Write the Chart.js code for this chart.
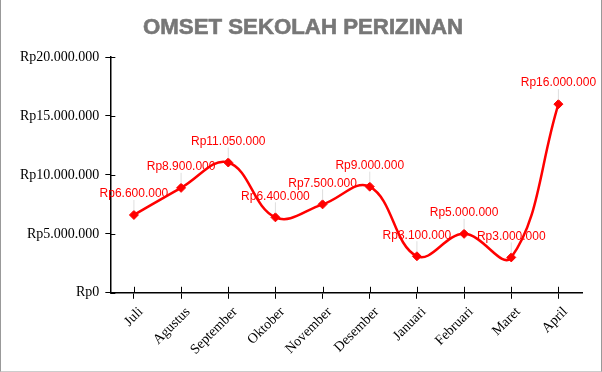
<!DOCTYPE html>
<html>
<head>
<meta charset="utf-8">
<script src="https://cdn.jsdelivr.net/npm/chart.js@4.4.1/dist/chart.umd.min.js"></script>
<style>
  html, body { margin: 0; padding: 0; background: #fff; }
  #wrap {
    width: 602px; height: 372px; box-sizing: border-box;
    border-left: 1px solid #999; border-right: 1px solid #999; border-bottom: 1px solid #ccc;
  }
</style>
</head>
<body>
<div id="wrap"><canvas id="omset_chart"></canvas></div>
<script>
var months = ['Juli', 'Agustus', 'September', 'Oktober', 'November', 'Desember', 'Januari', 'Februari', 'Maret', 'April'];
var omset = [6600000, 8900000, 11050000, 6400000, 7500000, 9000000, 3100000, 5000000, 3000000, 16000000];
var yTicks = [0, 5000000, 10000000, 15000000, 20000000];
var chartTitle = 'OMSET SEKOLAH PERIZINAN';

function rupiah(v) {
    return 'Rp' + String(Math.round(v)).replace(/\B(?=(\d{3})+(?!\d))/g, '.');
}

// heavy grey title, drawn by hand so it can be stretched a bit
const titlePlugin = {
    id: 'titlePlugin',
    afterDraw(chart) {
        const ctx = chart.ctx;
        ctx.save();
        ctx.font = 'bold 22px "Liberation Sans", Arial, sans-serif';
        const w = ctx.measureText(chartTitle).width;
        ctx.translate(302, 28);
        ctx.scale(320 / w, 1);
        ctx.fillStyle = '#777777';
        ctx.strokeStyle = '#777777';
        ctx.lineWidth = 0.6;
        ctx.textAlign = 'center';
        ctx.textBaseline = 'middle';
        ctx.fillText(chartTitle, 0, 0);
        ctx.strokeText(chartTitle, 0, 0);
        ctx.restore();
    }
};

// labels above each point with a thin grey leader line
const pointLabels = {
    id: 'pointLabels',
    afterDatasetsDraw(chart) {
        const ctx = chart.ctx;
        const meta = chart.getDatasetMeta(0);
        ctx.save();
        meta.data.forEach(function(pt, i) {
            ctx.strokeStyle = 'rgba(200,200,200,0.6)';
            ctx.lineWidth = 1;
            ctx.beginPath();
            ctx.moveTo(pt.x, pt.y - 4);
            ctx.lineTo(pt.x, pt.y - 15);
            ctx.stroke();
            ctx.fillStyle = '#ff0000';
            ctx.font = '12px "Liberation Sans", Arial, sans-serif';
            ctx.textAlign = 'center';
            ctx.textBaseline = 'middle';
            ctx.fillText(rupiah(omset[i]), pt.x, pt.y - 21);
        });
        ctx.restore();
    }
};

// tick marks crossing into the plot area too
const innerTicks = {
    id: 'innerTicks',
    afterDraw(chart) {
        const ctx = chart.ctx;
        const x = chart.scales.x, y = chart.scales.y;
        ctx.save();
        ctx.strokeStyle = '#000';
        ctx.lineWidth = 1;
        ctx.beginPath();
        x.ticks.forEach(function(t, i) {
            const px = Math.round(x.getPixelForTick(i)) + 0.5;
            ctx.moveTo(px, x.top);
            ctx.lineTo(px, x.top - 6);
        });
        y.ticks.forEach(function(t, i) {
            const py = Math.round(y.getPixelForTick(i)) + 0.5;
            ctx.moveTo(y.right, py);
            ctx.lineTo(y.right + 5, py);
        });
        ctx.stroke();
        ctx.restore();
    }
};

const tickFont = { family: '"Liberation Serif", "Times New Roman", serif', size: 14 };

const config_omset = {
    type: 'line',
    data: {
        labels: months,
        datasets: [{
            label: 'Omset',
            data: omset,
            borderColor: '#ff0000',
            backgroundColor: '#ff0000',
            borderWidth: 2.5,
            tension: 0.4,
            pointStyle: 'rectRot',
            pointRadius: 4.5,
            pointBorderWidth: 1,
            fill: false
        }]
    },
    options: {
        responsive: false,
        animation: false,
        layout: { padding: { left: 13, right: 19, top: 57, bottom: 8 } },
        plugins: {
            legend: { display: false },
            tooltip: { enabled: false },
            title: { display: false }
        },
        scales: {
            x: {
                offset: true,
                border: { color: '#000', width: 1.5 },
                grid: { drawOnChartArea: false, color: '#000', tickLength: 6, offset: false },
                ticks: { color: '#000', font: tickFont, maxRotation: 45, minRotation: 45, padding: 5, labelOffset: 7 }
            },
            y: {
                min: 0,
                max: 20000000,
                afterBuildTicks: function(axis) {
                    axis.ticks = yTicks.map(function(v) { return { value: v }; });
                },
                border: { color: '#000', width: 1.5 },
                grid: { drawOnChartArea: false, color: '#000', tickLength: 5 },
                ticks: { color: '#000', font: tickFont, padding: 6, callback: function(v) { return rupiah(v); } }
            }
        }
    },
    plugins: [pointLabels, innerTicks, titlePlugin]
};

const canvas = document.getElementById('omset_chart');
canvas.width = 600;
canvas.height = 371;
const omset_chart = new Chart(canvas, config_omset);
</script>
</body>
</html>
